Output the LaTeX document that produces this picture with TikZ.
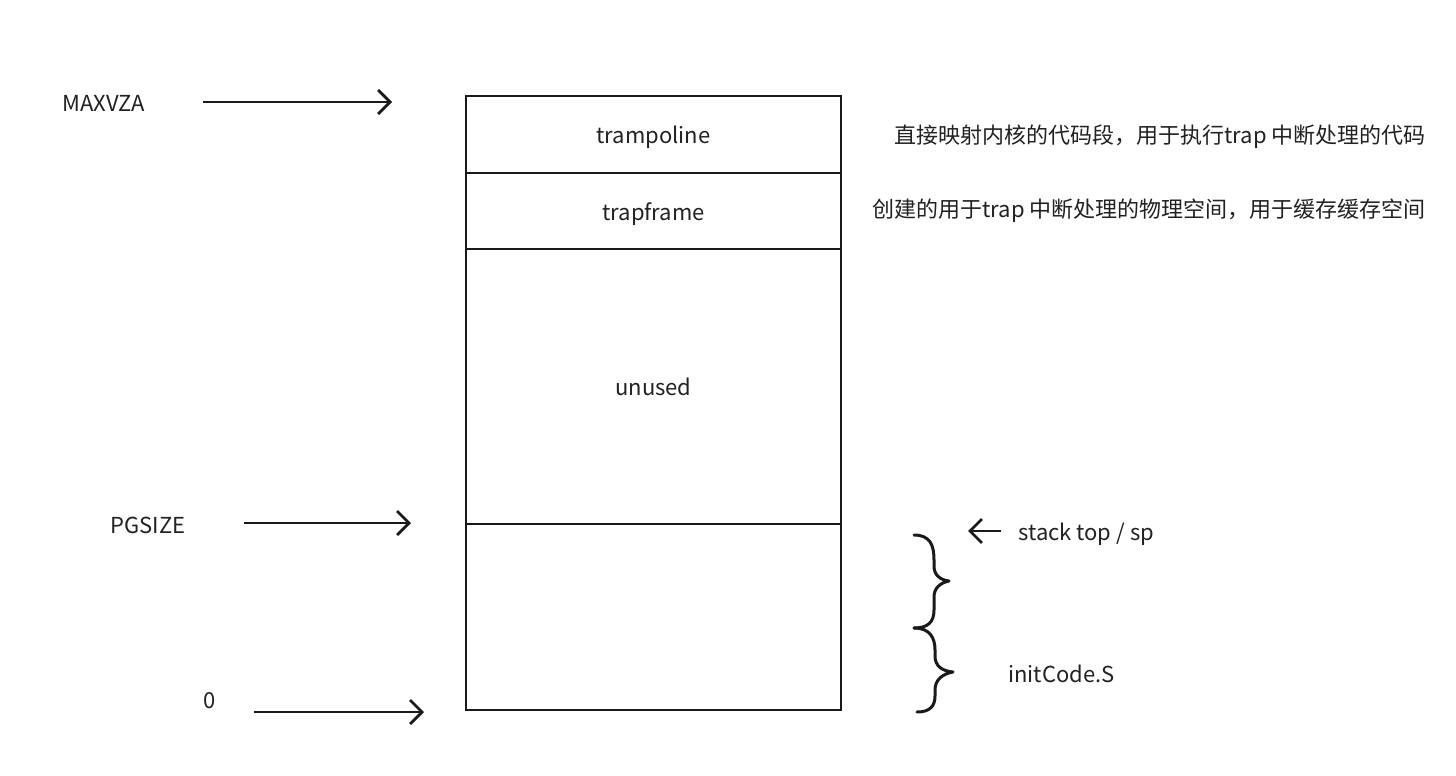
\documentclass[tikz,border=0pt]{standalone}
\usepackage{fontspec}
\setmainfont{Noto Sans CJK SC}
\usetikzlibrary{arrows.meta,positioning}
\definecolor{ink}{HTML}{222222}
\definecolor{rule}{HTML}{1A1A1A}
\definecolor{paper}{HTML}{FFFFFF}

\begin{document}
\begin{tikzpicture}[
  x=0.5pt, y=-0.5pt,
  font=\fontsize{11}{14}\selectfont,
  %===========================================================
  % Memory slots
  %===========================================================
  slot/.style={
    rectangle,
    draw=rule,
    line width=0.65pt,
    fill=paper,
    text=ink,
    text height=10.5pt,
    text depth=1.5pt,
    minimum width=187.5pt,
    inner sep=0pt,
    outer sep=0pt,
    anchor=north
  },
  %===========================================================
  % Pointers and labels
  %===========================================================
  ptr/.style={
    -{Straight Barb[length=6pt,width=12pt,line width=1.4pt]},
    draw=rule,
    line width=1.4pt
  },
  addr/.style={
    text=ink,
    inner sep=2pt
  },
  note/.style={
    text=ink,
    inner sep=2pt,
    anchor=east
  },
  curly/.style={
    draw=rule,
    line width=1.5pt,
    line cap=round,
    line join=round
  }
]
  \useasboundingbox[fill=paper] (0,0) rectangle (1456,776);

  %====================================================================
  % The page, top to bottom
  %====================================================================
  \node[slot, minimum height=38.5pt] (tramp) at (653.5,96) {trampoline};
  \node[slot, minimum height=38pt,  below=0pt of tramp] (tframe) {trapframe};
  \node[slot, minimum height=137.5pt, below=0pt of tframe] (unused) {unused};
  \node[slot, minimum height=93pt,  below=0pt of unused] (stack) {};

  %====================================================================
  % Addresses on the left
  %====================================================================
  \node[addr, anchor=west] (maxvza) at (58,103) {MAXVZA};
  \node[addr, anchor=west] (pgsize) at (106,525) {PGSIZE};
  \node[addr, anchor=west] (zero)   at (199,701) {0};

  \coordinate (maxvza_tip) at (392,102);
  \coordinate (pgsize_tip) at (411,523);
  \coordinate (zero_tip)   at (424,712);

  \draw[ptr, shorten <=27pt] (maxvza.east |- maxvza_tip) -- (maxvza_tip);
  \draw[ptr, shorten <=27pt] (pgsize.east |- pgsize_tip) -- (pgsize_tip);
  \draw[ptr, shorten <=17pt] (zero.east |- zero_tip) -- (zero_tip);

  %====================================================================
  % Notes on the right
  %====================================================================
  \node[note] (tramp_note)  at (1430,137) {直接映射内核的代码段，用于执行trap 中断处理的代码};
  \node[note] (tframe_note) at (1430,211) {创建的用于trap 中断处理的物理空间，用于缓存缓存空间};

  \node[addr, anchor=west] (sp) at (1014,534) {stack top / sp};
  \coordinate (sp_tip) at (968,531);
  \draw[ptr, shorten <=6.5pt] (sp.west |- sp_tip) -- (sp_tip);

  \node[addr, anchor=west] (init) at (1004,674) {initCode.S};

  % two stacked curly braces
  \draw[curly] (914,535) .. controls (930,535) and (934,545) .. (934,560)
    -- (934,566) .. controls (934,575) and (940,580) .. (949,581)
    .. controls (940,583) and (934,588) .. (934,597)
    -- (934,610) .. controls (934,622) and (928,628) .. (914,628);
  \draw[curly] (914,628) .. controls (930,628) and (935,638) .. (935,650)
    -- (935,656) .. controls (935,666) and (942,671) .. (953,672)
    .. controls (942,674) and (935,680) .. (935,690)
    -- (935,696) .. controls (935,706) and (930,712) .. (917,712);

\end{tikzpicture}
\end{document}
